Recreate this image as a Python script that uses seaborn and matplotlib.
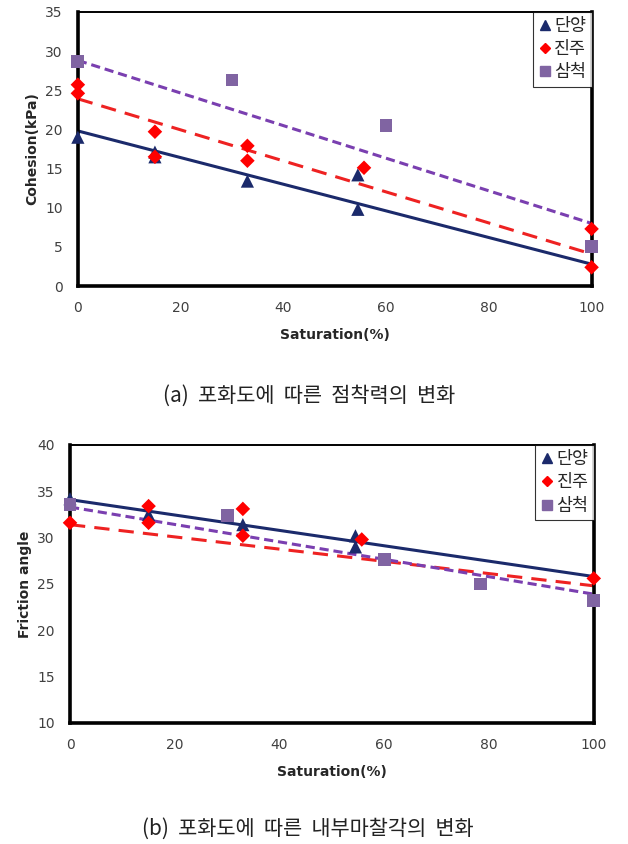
import numpy as np
import pandas as pd
import matplotlib
matplotlib.use("Agg")
import matplotlib.pyplot as plt
import seaborn as sns

# 데이터
sites = ["단양", "진주", "삼척"]

# (a) 점착력
coh_danyang_x = [0, 15, 15, 33, 54.5, 54.5]
coh_danyang_y = [19.0, 17.1, 16.5, 13.4, 14.2, 9.8]
coh_jinju_x = [0, 0, 15, 15, 33, 33, 55.7, 100, 100]
coh_jinju_y = [25.7, 24.6, 19.7, 16.5, 17.9, 16.0, 15.1, 7.3, 2.4]
coh_samcheok_x = [0, 30, 60, 100]
coh_samcheok_y = [28.7, 26.3, 20.5, 5.1]

# 추세선 (x=0, x=100 에서의 값)
fit_x = [0, 100]
coh_fit = {"단양": [19.8, 2.8], "진주": [23.9, 4.1], "삼척": [28.8, 8.0]}

# (b) 내부마찰각
fric_danyang_x = [0, 15, 33, 54.5, 54.5]
fric_danyang_y = [34.2, 32.5, 31.4, 30.2, 29.0]
fric_jinju_x = [0, 15, 15, 33, 33, 55.7, 100]
fric_jinju_y = [31.6, 33.4, 31.6, 33.1, 30.2, 29.8, 25.6]
fric_samcheok_x = [0, 30, 60, 78.4, 100]
fric_samcheok_y = [33.6, 32.4, 27.6, 25.0, 23.2]

fric_fit = {"단양": [34.1, 25.8], "진주": [31.4, 24.8], "삼척": [33.3, 23.9]}

x_ticks = [0, 20, 40, 60, 80, 100]
coh_ticks = [0, 5, 10, 15, 20, 25, 30, 35]
fric_ticks = [10, 15, 20, 25, 30, 35, 40]

sns.set_style("white")
plt.rcParams['font.family'] = ['DejaVu Sans', 'Noto Sans CJK KR']

colors = {"단양": "#1b2a6b", "진주": "#ff0000", "삼척": "#8064a2"}
line_colors = {"단양": "#1b2a6b", "진주": "#ee2222", "삼척": "#7a3fb0"}
line_styles = {"단양": "-", "진주": (0, (5, 3)), "삼척": (0, (3, 1.6))}
markers = {"단양": "^", "진주": "D", "삼척": "s"}
sizes = {"단양": 90, "진주": 55, "삼척": 85}


def make_df(xs, ys):
    rows = []
    for s, x, y in zip(sites, xs, ys):
        rows.append(pd.DataFrame({"site": s, "x": x, "y": y}))
    return pd.concat(rows, ignore_index=True)


def draw(ax, df, fits, ylim, yticks, ylabel):
    # 추세선
    for s in sites:
        sns.lineplot(x=fit_x, y=fits[s], ax=ax, color=line_colors[s],
                     linestyle=line_styles[s], linewidth=2.2, zorder=2)
    # 측정값
    handles = []
    for s in sites:
        sub = df[df["site"] == s]
        sns.scatterplot(data=sub, x="x", y="y", ax=ax, marker=markers[s],
                        color=colors[s], s=sizes[s], edgecolor="none",
                        zorder=3, clip_on=False)
        handles.append(plt.Line2D([], [], marker=markers[s], color=colors[s],
                                  linestyle="none", markersize=7 if s != "진주" else 5.5))
    ax.set_xlim(0, 100)
    ax.set_ylim(*ylim)
    ax.set_xticks(x_ticks)
    ax.set_yticks(yticks)
    ax.tick_params(length=0, labelsize=10, labelcolor="#404040", pad=11)
    ax.set_xlabel("Saturation(%)", fontsize=10, fontweight="bold", labelpad=9)
    ax.set_ylabel(ylabel, fontsize=10, fontweight="bold", labelpad=4)
    for side in ["left", "bottom", "right"]:
        ax.spines[side].set_linewidth(2.6)
        ax.spines[side].set_color("black")
    ax.spines["top"].set_linewidth(1.4)
    ax.spines["top"].set_color("black")
    leg = ax.legend(handles, sites, loc="upper right", fontsize=12.5,
                    frameon=True, fancybox=False, handlelength=0.8,
                    handletextpad=0.15, borderpad=0.3, labelspacing=0.3,
                    borderaxespad=0.0)
    leg.get_frame().set_edgecolor("black")
    leg.get_frame().set_linewidth(0.8)


fig = plt.figure(figsize=(6.28, 8.44), dpi=100)
ax1 = fig.add_axes([0.124, 0.661, 0.818, 0.325])
ax2 = fig.add_axes([0.1115, 0.1434, 0.834, 0.3294])

df_coh = make_df([coh_danyang_x, coh_jinju_x, coh_samcheok_x],
                 [coh_danyang_y, coh_jinju_y, coh_samcheok_y])
df_fric = make_df([fric_danyang_x, fric_jinju_x, fric_samcheok_x],
                  [fric_danyang_y, fric_jinju_y, fric_samcheok_y])

draw(ax1, df_coh, coh_fit, (0, 35), coh_ticks, "Cohesion(kPa)")
draw(ax2, df_fric, fric_fit, (10, 40), fric_ticks, "Friction angle")

fig.text(0.492, 0.531, "(a)  포화도에  따른  점착력의  변화", ha="center", va="center",
         fontsize=15, family=['Noto Sans CJK KR', 'DejaVu Sans'], color="#222222")
fig.text(0.49, 0.018, "(b)  포화도에  따른  내부마찰각의  변화", ha="center", va="center",
         fontsize=15, family=['Noto Sans CJK KR', 'DejaVu Sans'], color="#222222")

fig.savefig("out.png", dpi=100)
